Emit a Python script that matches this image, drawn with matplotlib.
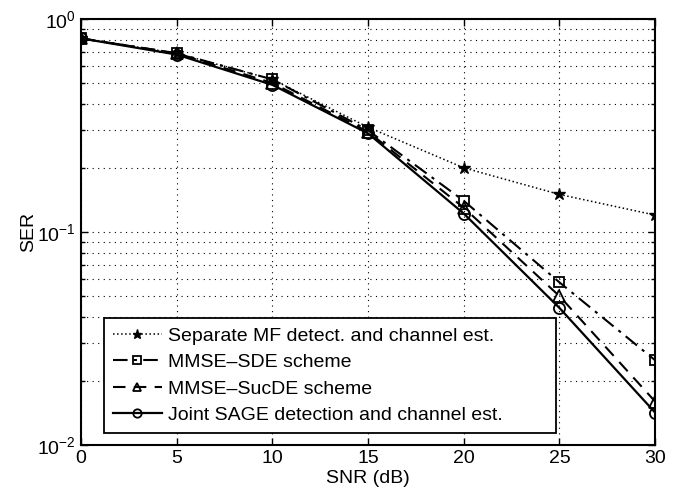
import matplotlib
matplotlib.use('Agg')
import matplotlib.pyplot as plt
from matplotlib.ticker import LogLocator, NullFormatter

plt.rcParams['font.family'] = ['Liberation Sans', 'DejaVu Sans']

snr_db = [0, 5, 10, 15, 20, 25, 30]
ser_mf = [0.81, 0.69, 0.52, 0.31, 0.20, 0.15, 0.12]
ser_sde = [0.81, 0.69, 0.52, 0.30, 0.14, 0.058, 0.025]
ser_sucde = [0.81, 0.69, 0.50, 0.295, 0.13, 0.050, 0.016]
ser_sage = [0.81, 0.68, 0.49, 0.29, 0.122, 0.044, 0.0142]

labels = ['Separate MF detect. and channel est.',
          'MMSE\u2013SDE scheme',
          'MMSE\u2013SucDE scheme',
          'Joint SAGE detection and channel est.']

fig = plt.figure(figsize=(6.81, 4.97), dpi=100)
ax = fig.add_axes([0.119, 0.1046, 0.843, 0.8574])

ax.semilogy(snr_db, ser_mf, color='black', linestyle=':', linewidth=1.1,
            marker='*', markersize=9, markerfacecolor='black', label=labels[0])
ax.semilogy(snr_db, ser_sde, color='black', linestyle='-.', linewidth=1.5,
            marker='s', markersize=7, markerfacecolor='none', markeredgewidth=1.3,
            dashes=(7, 3, 1.5, 3), label=labels[1])
ax.semilogy(snr_db, ser_sucde, color='black', linestyle='--', linewidth=1.5,
            marker='^', markersize=8, markerfacecolor='none', markeredgewidth=1.3,
            dashes=(6, 4), label=labels[2])
ax.semilogy(snr_db, ser_sage, color='black', linestyle='-', linewidth=1.6,
            marker='o', markersize=8, markerfacecolor='none', markeredgewidth=1.3,
            label=labels[3])

ax.set_xlim(0, 30)
ax.set_ylim(1e-2, 1)
ax.set_xticks(snr_db)
ax.yaxis.set_major_locator(LogLocator(base=10, numticks=10))
ax.yaxis.set_minor_locator(LogLocator(base=10, subs=range(2, 10), numticks=10))
ax.yaxis.set_minor_formatter(NullFormatter())

ax.grid(True, which='major', axis='both', linestyle=(0, (1, 4)), color='black', linewidth=0.8)
ax.grid(True, which='minor', axis='y', linestyle=(0, (1, 4)), color='black', linewidth=0.8)

ax.tick_params(which='both', direction='in', top=True, right=True, labelsize=14)
ax.tick_params(which='major', length=5, width=1)
ax.tick_params(which='minor', length=3, width=1)
for sp in ax.spines.values():
    sp.set_linewidth(1.5)

ax.set_xlabel('SNR (dB)', fontsize=14, labelpad=2)
ax.set_ylabel('SER', fontsize=14, labelpad=0)

leg = ax.legend(loc='lower left', bbox_to_anchor=(0.04, 0.028, 0.787, 0.272),
                mode='expand', borderaxespad=0,
                fontsize=14, fancybox=False, framealpha=1, edgecolor='black',
                handlelength=2.5, handletextpad=0.3, labelspacing=0.45,
                borderpad=0.47, markerscale=0.75)
leg.get_frame().set_linewidth(1.3)

fig.savefig('out.png', dpi=100)
